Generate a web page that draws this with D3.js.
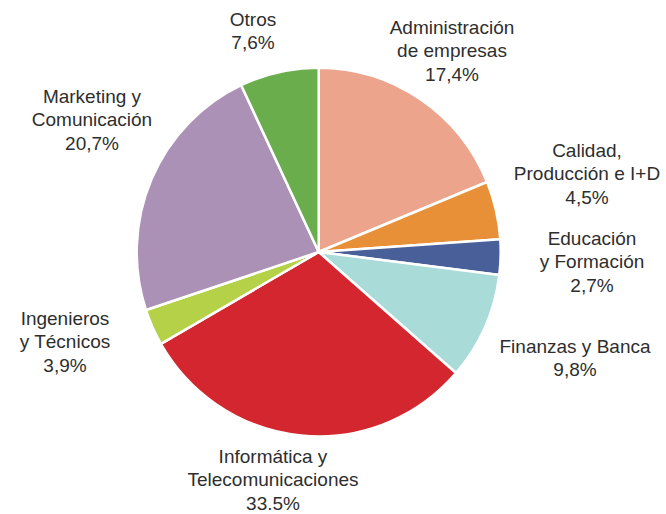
<!DOCTYPE html>
<html>
<head>
<meta charset="utf-8">
<script src="https://cdn.jsdelivr.net/npm/d3@7"></script>
<style>
  body { margin: 0; background: #fff; }
  svg { display: block; }
</style>
</head>
<body>
<div id="chart"></div>
<script>
// categories, clockwise from 12 o'clock
const categories = [
  "Administración de empresas",
  "Calidad, Producción e I+D",
  "Educación y Formación",
  "Finanzas y Banca",
  "Informática y Telecomunicaciones",
  "Ingenieros y Técnicos",
  "Marketing y Comunicación",
  "Otros"
];

// slice sizes as drawn in the picture (percent of the circle)
const shares = [18.8, 5.1, 3.1, 9.4, 30.3, 3.2, 23.1, 7.0];

// printed labels
const labelLines = [
  ["Administración", "de empresas"],
  ["Calidad,", "Producción e I+D"],
  ["Educación", "y Formación"],
  ["Finanzas y Banca"],
  ["Informática y", "Telecomunicaciones"],
  ["Ingenieros", "y Técnicos"],
  ["Marketing y", "Comunicación"],
  ["Otros"]
];
const labelValues = ["17,4%", "4,5%", "2,7%", "9,8%", "33.5%", "3,9%", "20,7%", "7,6%"];

const colors = ["#eca48c", "#e89037", "#485f99", "#a9dbd8", "#d3262e", "#b4d147", "#ab91b6", "#6aad4c"];

const width = 666, height = 514;
const cx = 318.7, cy = 252, radius = 182;
const lineH = 23.3;

// where each label block sits (centre x, first baseline y)
const labelAnchors = [
  [452, 34], [587, 157], [592, 245], [575, 353],
  [273, 463], [65, 325], [92, 103], [253, 26]
];

const svg = d3.select("#chart").append("svg")
  .attr("width", width)
  .attr("height", height);

const data = categories.map((c, i) => ({ name: c, value: shares[i], color: colors[i] }));

const pie = d3.pie().sort(null).value(d => d.value);
const arc = d3.arc().innerRadius(0).outerRadius(radius);

const g = svg.append("g")
  .attr("transform", `translate(${cx},${cy}) scale(1,1.013)`);

g.selectAll("path")
  .data(pie(data))
  .join("path")
  .attr("d", arc)
  .attr("fill", d => d.data.color)
  .attr("stroke", "#fff")
  .attr("stroke-width", 2.5)
  .attr("stroke-linejoin", "round");

const labels = svg.append("g")
  .attr("font-family", "'Liberation Sans', Arial, sans-serif")
  .attr("font-size", 19)
  .attr("fill", "#2e2e2e")
  .attr("text-anchor", "middle");

labelLines.forEach((lines, i) => {
  const [x, y] = labelAnchors[i];
  const t = labels.append("text").attr("x", x).attr("y", y);
  lines.concat([labelValues[i]]).forEach((line, j) => {
    t.append("tspan")
      .attr("x", x)
      .attr("y", y + j * lineH)
      .text(line);
  });
});
</script>
</body>
</html>
